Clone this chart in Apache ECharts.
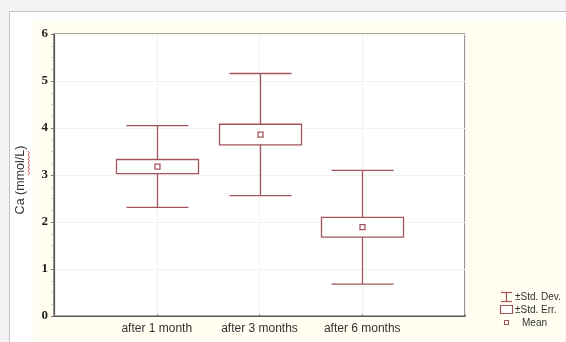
<!DOCTYPE html>
<html>
<head>
<meta charset="utf-8">
<script src="https://cdn.jsdelivr.net/npm/echarts@6/dist/echarts.min.js"></script>
<style>
  html, body { margin: 0; padding: 0; background: #f3f3f3; }
  #chart { width: 566px; height: 342px; }
</style>
</head>
<body>
<div id="chart"></div>
<script>
// Calcium concentration by time point: mean, standard error and standard deviation
var categories = ['after 1 month', 'after 3 months', 'after 6 months'];
var means = [3.18, 3.86, 1.89];
var stdErr = [0.15, 0.22, 0.21];
var stdDev = [0.87, 1.30, 1.21];
var yTicks = [0, 1, 2, 3, 4, 5, 6];

var markColor = '#a3555d';

var chart = echarts.init(document.getElementById('chart'), null, { renderer: 'canvas' });

var data = categories.map(function (c, i) {
  return [i + 1, means[i], stdErr[i], stdDev[i]];
});

function renderItem(params, api) {
  var x = api.value(0), m = api.value(1), se = api.value(2), sd = api.value(3);
  var top = api.coord([x, m + sd]);
  var bot = api.coord([x, m - sd]);
  var boxTop = api.coord([x, m + se]);
  var boxBot = api.coord([x, m - se]);
  var mid = api.coord([x, m]);
  var cx = Math.round(top[0]) + 0.5;
  var capHalf = 31, boxHalf = 41;
  var line = { stroke: markColor, lineWidth: 1.3 };
  return {
    type: 'group',
    children: [
      { type: 'line', shape: { x1: cx, y1: top[1], x2: cx, y2: bot[1] }, style: line },
      { type: 'line', shape: { x1: cx - capHalf, y1: top[1], x2: cx + capHalf, y2: top[1] }, style: line },
      { type: 'line', shape: { x1: cx - capHalf, y1: bot[1], x2: cx + capHalf, y2: bot[1] }, style: line },
      { type: 'rect', shape: { x: cx - boxHalf, y: boxTop[1], width: boxHalf * 2, height: boxBot[1] - boxTop[1] },
        style: { fill: '#ffffff', stroke: markColor, lineWidth: 1.3 } },
      { type: 'rect', shape: { x: cx - 2.5, y: mid[1] - 2.5, width: 5, height: 5 },
        style: { fill: '#ffffff', stroke: markColor, lineWidth: 1.3 } }
    ]
  };
}

var legendItems = [
  { text: '\u00b1Std. Dev.', y: 297, x: 515 },
  { text: '\u00b1Std. Err.', y: 310, x: 515 },
  { text: 'Mean', y: 323, x: 522 }
];

var graphics = [
  // outer panel and cream background
  { type: 'rect', z: -10, silent: true, shape: { x: 9.5, y: 11.5, width: 570, height: 340 },
    style: { fill: '#ffffff', stroke: '#c4c4c4', lineWidth: 1 } },
  { type: 'rect', z: -9, silent: true, shape: { x: 33, y: 20, width: 540, height: 330 },
    style: { fill: '#fffef1' } },
  // plot area fill
  { type: 'rect', z: -8, silent: true, shape: { x: 54, y: 34, width: 411, height: 282 },
    style: { fill: '#ffffff' } },
  // legend icons
  { type: 'line', shape: { x1: 501, y1: 292.5, x2: 512, y2: 292.5 }, style: { stroke: markColor, lineWidth: 1.2 } },
  { type: 'line', shape: { x1: 501, y1: 301.5, x2: 512, y2: 301.5 }, style: { stroke: markColor, lineWidth: 1.2 } },
  { type: 'line', shape: { x1: 506.5, y1: 292.5, x2: 506.5, y2: 301.5 }, style: { stroke: markColor, lineWidth: 1.2 } },
  { type: 'rect', shape: { x: 500.5, y: 305.5, width: 12, height: 8 }, style: { fill: '#ffffff', stroke: markColor, lineWidth: 1.2 } },
  { type: 'rect', shape: { x: 504.5, y: 320.5, width: 4, height: 4 }, style: { fill: '#ffffff', stroke: markColor, lineWidth: 1.1 } },
  // axis title
  { type: 'text', x: 21, y: 180, rotation: Math.PI / 2,
    style: { text: 'Ca (mmol/L)', fill: '#333333', font: '12.5px "Liberation Sans", Arial, sans-serif',
      align: 'center', verticalAlign: 'middle' } },
  // spell-check underline under "mmol"
  { type: 'polyline', shape: { points: [[28, 175], [29.5, 173], [28, 171], [29.5, 169], [28, 167], [29.5, 165], [28, 163], [29.5, 161], [28, 159], [29.5, 157], [28, 155], [29.5, 153], [28, 151]] },
    style: { stroke: '#e05a5a', lineWidth: 1, fill: null } }
];
legendItems.forEach(function (it) {
  graphics.push({ type: 'text', x: it.x, y: it.y,
    style: { text: it.text, fill: '#333333', font: '10px "Liberation Sans", Arial, sans-serif',
      verticalAlign: 'middle' } });
});

chart.setOption({
  animation: false,
  backgroundColor: 'transparent',
  grid: { left: 54, top: 34, right: 101, bottom: 26, show: true, borderColor: '#555555', borderWidth: 1.2, backgroundColor: 'transparent' },
  xAxis: {
    type: 'value', min: 0, max: 4, interval: 1,
    axisLine: { show: true, lineStyle: { color: '#555555', width: 1.2 } },
    axisTick: { show: true, inside: true, length: 2, lineStyle: { color: '#888888' } },
    splitLine: { show: true, lineStyle: { color: '#f2f2f2' } },
    axisLabel: {
      color: '#333333', fontSize: 12, fontFamily: '"Liberation Sans", Arial, sans-serif', margin: 7,
      formatter: function (v) { return categories[v - 1] || ''; }
    }
  },
  yAxis: {
    type: 'value', min: yTicks[0], max: yTicks[yTicks.length - 1], interval: 1,
    axisLine: { show: true, lineStyle: { color: '#555555', width: 1.2 } },
    axisTick: { show: true, length: 3, lineStyle: { color: '#777777' } },
    minorTick: { show: true, splitNumber: 4, length: 2, lineStyle: { color: '#999999' } },
    splitLine: { show: true, lineStyle: { color: '#f2f2f2' } },
    axisLabel: {
      color: '#222222', fontSize: 13, fontWeight: 'bold', margin: 6,
      fontFamily: '"Liberation Serif", "Times New Roman", serif',
      formatter: function (v) { return yTicks.indexOf(v) >= 0 ? String(v) : ''; }
    }
  },
  series: [{
    type: 'custom',
    renderItem: renderItem,
    data: data,
    encode: { x: 0, y: 1 },
    z: 5
  }],
  graphic: graphics
});
</script>
</body>
</html>
